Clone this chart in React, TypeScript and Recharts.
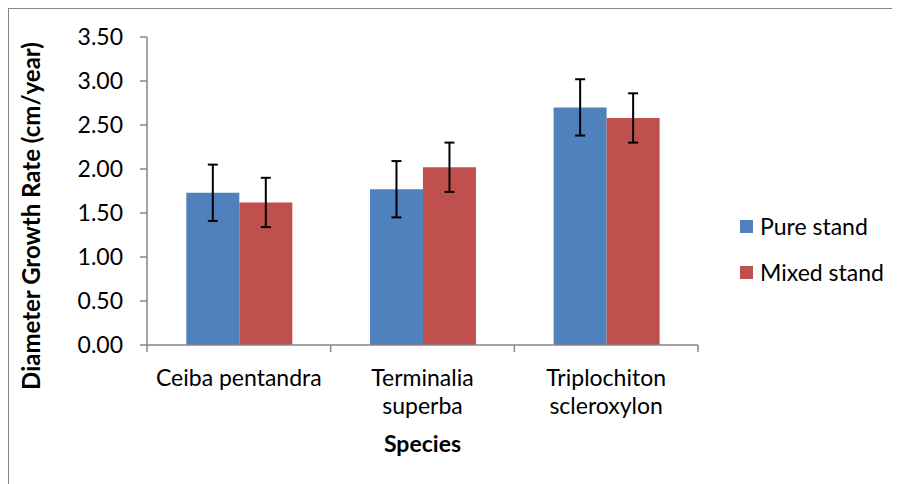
import { Bar, BarChart, ErrorBar, Legend, XAxis, YAxis } from "recharts";

const species = [["Ceiba pentandra"], ["Terminalia", "superba"], ["Triplochiton", "scleroxylon"]];
const pureStand = [1.73, 1.77, 2.7];
const pureError = [0.32, 0.32, 0.32];
const mixedStand = [1.62, 2.02, 2.58];
const mixedError = [0.28, 0.28, 0.28];
const yTicks = [0, 0.5, 1, 1.5, 2, 2.5, 3, 3.5];

const seriesNames = ["Pure stand", "Mixed stand"];
const colors = ["#4F81BD", "#C0504D"];
const axisColor = "#868686";
const font = "Lato, 'Liberation Sans', sans-serif";

const data = species.map((lines, i) => ({
  name: lines.join(" "),
  pure: pureStand[i],
  pureErr: pureError[i],
  mixed: mixedStand[i],
  mixedErr: mixedError[i],
}));

// category label plus Excel-style tick marks at the band edges
function CategoryTick(props: any) {
  const { x, y, index, payload } = props;
  const lines = species[index] ?? [];
  const half = payload?.offset ?? 0;
  const left = payload.coordinate - half;
  const right = payload.coordinate + half;
  const top = y - 8;
  return (
    <g>
      <line x1={left} x2={left} y1={top} y2={top + 7} stroke={axisColor} strokeWidth={1.5} />
      {index === species.length - 1 && (
        <line x1={right} x2={right} y1={top} y2={top + 7} stroke={axisColor} strokeWidth={1.5} />
      )}
      <text x={x} textAnchor="middle" fill="#000" fontSize={23} fontFamily={font}>
        {lines.map((line, i) => (
          <tspan key={i} x={x} y={y + 33 + i * 28}>
            {line}
          </tspan>
        ))}
      </text>
    </g>
  );
}

function LegendBox() {
  return (
    <div style={{ fontFamily: font, fontSize: 23, color: "#000" }}>
      {seriesNames.map((name, i) => (
        <div key={name} style={{ display: "flex", alignItems: "center", height: 46 }}>
          <span style={{ width: 13, height: 13, background: colors[i], marginRight: 7 }} />
          <span>{name}</span>
        </div>
      ))}
    </div>
  );
}

export default function App() {
  return (
    <div
      style={{
        width: 892,
        height: 476,
        borderTop: `1px solid ${axisColor}`,
        borderLeft: `1px solid ${axisColor}`,
        fontFamily: font,
        overflow: "hidden",
      }}
    >
      <BarChart
        width={891}
        height={475}
        data={data}
        margin={{ top: 28, right: 202, left: 0, bottom: 59 }}
        barCategoryGap="21.4%"
        barGap={0}
      >
        <XAxis
          dataKey="name"
          stroke={axisColor}
          strokeWidth={1.5}
          tickLine={false}
          height={80}
          interval={0}
          tick={<CategoryTick />}
          label={(p: any) => {
            const vb = p.viewBox;
            return (
              <text
                x={vb.x + vb.width / 2}
                y={vb.y + 107}
                textAnchor="middle"
                fontWeight="bold"
                fontSize={23}
                fontFamily={font}
                fill="#000"
              >
                Species
              </text>
            );
          }}
        />
        <YAxis
          width={138}
          domain={[0, 3.5]}
          ticks={yTicks}
          tickFormatter={(v: number) => v.toFixed(2)}
          tickSize={7}
          tickMargin={17}
          stroke={axisColor}
          strokeWidth={1.5}
          tick={{ fill: "#000", fontSize: 23, fontFamily: font }}
          label={(p: any) => {
            const vb = p.viewBox;
            const cx = vb.x + 21;
            const cy = vb.y + vb.height / 2 + 25;
            return (
              <text
                x={cx}
                y={cy}
                transform={`rotate(-90, ${cx}, ${cy})`}
                textAnchor="middle"
                dominantBaseline="central"
                fontWeight="bold"
                fontSize={24}
                fontFamily={font}
                fill="#000"
              >
                Diameter Growth Rate (cm/year)
              </text>
            );
          }}
        />
        <Legend
          content={<LegendBox />}
          layout="horizontal"
          verticalAlign="middle"
          align="center"
          wrapperStyle={{ position: "absolute", left: 731, top: 194, width: 160 }}
        />
        <Bar dataKey="pure" name={seriesNames[0]} fill={colors[0]} isAnimationActive={false}>
          <ErrorBar dataKey="pureErr" width={5} stroke="#000" strokeWidth={2} direction="y" />
        </Bar>
        <Bar dataKey="mixed" name={seriesNames[1]} fill={colors[1]} isAnimationActive={false}>
          <ErrorBar dataKey="mixedErr" width={5} stroke="#000" strokeWidth={2} direction="y" />
        </Bar>
      </BarChart>
    </div>
  );
}
